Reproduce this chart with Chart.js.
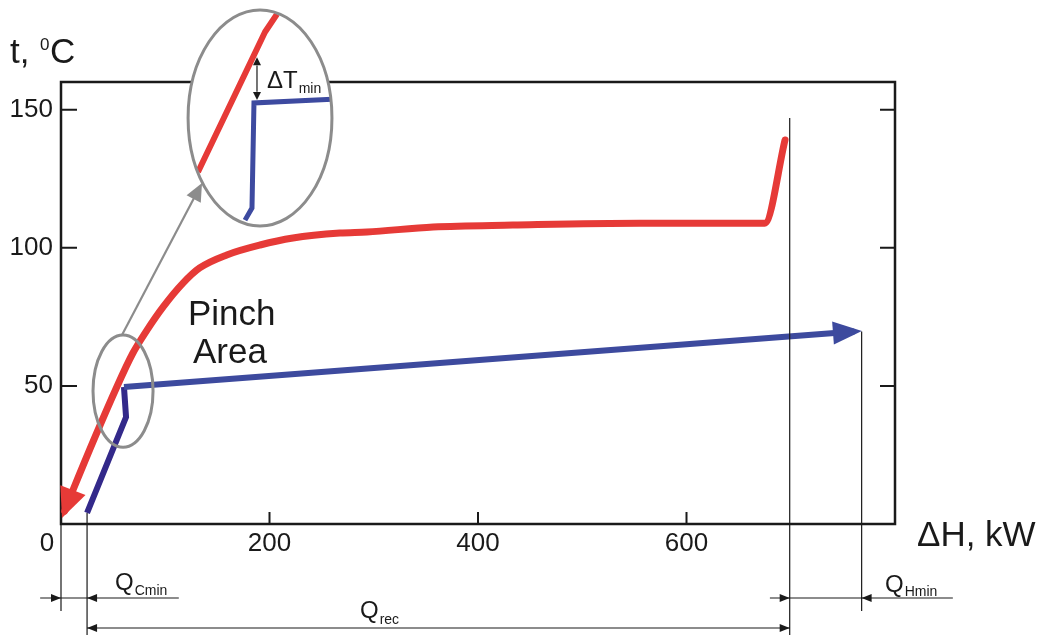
<!DOCTYPE html>
<html>
<head>
<meta charset="utf-8">
<script src="https://cdn.jsdelivr.net/npm/chart.js@4/dist/chart.umd.min.js"></script>
<style>
html, body { margin: 0; padding: 0; background: #fff; }
</style>
</head>
<body>
<canvas id="chart" width="1040" height="635"></canvas>
<script>
// Hot composite curve: enthalpy (kW) and temperature (°C)
const hotH = [3.6, 11.5, 53.5, 69, 82.5, 98, 117, 133, 159, 191, 222.5, 267.5, 293.5, 357, 433.5, 555, 675, 694.5];
const hotT = [4.7, 12.3, 49.6, 61.9, 70.2, 78.6, 87.2, 92.7, 97.4, 101, 103.5, 105.3, 105.7, 107.5, 108.2, 108.9, 108.9, 139];
// Cold composite curve
const coldH = [25, 62.4, 60.4, 761];
const coldT = [4, 38.7, 49.6, 69.7];

const xTicks = [0, 200, 400, 600];
const yTicks = [50, 100, 150];

// Energy targets on the H axis: [from, to]
const qCmin = [0, 25];
const qRec = [25, 699];
const qHmin = [699, 768];

const FONT = "'Liberation Sans', Arial, sans-serif";
const INK = '#1a1a1a';
const RED = '#e63a37';
const GREY = '#8c8c8c';

function head(ctx, x0, y0, x1, y1, len, half, color) {
  const dx = x1 - x0, dy = y1 - y0, d = Math.hypot(dx, dy);
  const ux = dx / d, uy = dy / d;
  const bx = x1 - ux * len, by = y1 - uy * len;
  ctx.fillStyle = color;
  ctx.beginPath();
  ctx.moveTo(x1, y1);
  ctx.lineTo(bx - uy * half, by + ux * half);
  ctx.lineTo(bx + uy * half, by - ux * half);
  ctx.closePath();
  ctx.fill();
}

function subText(ctx, main, sub, x, y, size, subSize, drop) {
  ctx.font = size + 'px ' + FONT;
  ctx.fillText(main, x, y);
  const w = ctx.measureText(main).width;
  ctx.font = subSize + 'px ' + FONT;
  ctx.fillText(sub, x + w + 1, y + drop);
}

const sketch = {
  id: 'sketch',
  beforeDatasetsDraw(chart) {
    const { ctx, chartArea: a, scales: { x, y } } = chart;
    ctx.save();
    // frame with inward ticks
    ctx.strokeStyle = INK;
    ctx.lineWidth = 2.5;
    ctx.strokeRect(a.left, a.top, a.right - a.left, a.bottom - a.top);
    ctx.lineWidth = 2;
    ctx.beginPath();
    yTicks.forEach(v => {
      const py = y.getPixelForValue(v);
      ctx.moveTo(a.left, py); ctx.lineTo(a.left + 16, py);
      ctx.moveTo(a.right - 15, py); ctx.lineTo(a.right, py);
    });
    xTicks.forEach(v => {
      if (v === 0) return;
      const px = x.getPixelForValue(v);
      ctx.moveTo(px, a.bottom); ctx.lineTo(px, a.bottom - 12);
    });
    ctx.stroke();

    // tick labels
    ctx.fillStyle = INK;
    ctx.font = '26px ' + FONT;
    ctx.textBaseline = 'middle';
    ctx.textAlign = 'right';
    yTicks.forEach(v => ctx.fillText(String(v), a.left - 8, y.getPixelForValue(v)));
    ctx.textAlign = 'center';
    xTicks.forEach(v => {
      const px = x.getPixelForValue(v) - (v === 0 ? 14 : 0);
      ctx.fillText(String(v), px, a.bottom + 20);
    });

    // axis titles
    ctx.textAlign = 'left';
    ctx.textBaseline = 'alphabetic';
    ctx.font = '35px ' + FONT;
    ctx.fillText('t, ', 10, 63);
    ctx.font = '17px ' + FONT;
    ctx.fillText('0', 40, 50);
    ctx.font = '35px ' + FONT;
    ctx.fillText('C', 50, 63);
    ctx.fillText('\u0394H, kW', 917, 546);
    ctx.restore();
  },
  afterDatasetsDraw(chart) {
    const { ctx, chartArea: a, scales: { x, y } } = chart;
    const X = v => x.getPixelForValue(v);
    const Y = v => y.getPixelForValue(v);
    ctx.save();

    // arrowheads on the composite curves
    const hot = chart.getDatasetMeta(0).data;
    const cold = chart.getDatasetMeta(1).data;
    const ext = (p, q, k) => {
      const d = Math.hypot(p.x - q.x, p.y - q.y);
      return [p.x + (p.x - q.x) / d * k, p.y + (p.y - q.y) / d * k];
    };
    let t = ext(hot[0], hot[1], 7.6);
    head(ctx, hot[1].x, hot[1].y, t[0], t[1], 30, 13.5, RED);
    const n = cold.length;
    t = ext(cold[n - 1], cold[n - 2], 7.6);
    head(ctx, cold[n - 2].x, cold[n - 2].y, t[0], t[1], 29, 11.5, '#3d4a9e');

    // vertical guide lines down to the target dimensions
    const r1 = a.bottom + 74, r2 = a.bottom + 104;
    ctx.strokeStyle = INK;
    ctx.lineWidth = 1.2;
    ctx.beginPath();
    ctx.moveTo(X(qCmin[0]), a.bottom); ctx.lineTo(X(qCmin[0]), a.bottom + 87);
    ctx.moveTo(X(qCmin[1]), Y(coldT[0])); ctx.lineTo(X(qCmin[1]), 635);
    ctx.moveTo(X(qRec[1]), Y(147)); ctx.lineTo(X(qRec[1]), 635);
    ctx.moveTo(X(qHmin[1]), Y(coldT[n - 1])); ctx.lineTo(X(qHmin[1]), a.bottom + 87);
    // dimension lines
    ctx.moveTo(X(-20), r1); ctx.lineTo(X(113), r1);
    ctx.moveTo(X(680), r1); ctx.lineTo(X(855.5), r1);
    ctx.moveTo(X(qRec[0]), r2); ctx.lineTo(X(qRec[1]), r2);
    ctx.stroke();
    head(ctx, X(-20), r1, X(qCmin[0]), r1, 10, 4, INK);
    head(ctx, X(113), r1, X(qCmin[1]), r1, 10, 4, INK);
    head(ctx, X(680), r1, X(qHmin[0]), r1, 10, 4, INK);
    head(ctx, X(855.5), r1, X(qHmin[1]), r1, 10, 4, INK);
    head(ctx, X(qRec[1]), r2, X(qRec[0]), r2, 10, 4, INK);
    head(ctx, X(qRec[0]), r2, X(qRec[1]), r2, 10, 4, INK);

    ctx.fillStyle = INK;
    ctx.textAlign = 'left';
    ctx.textBaseline = 'alphabetic';
    subText(ctx, 'Q', 'Cmin', X(51.8), a.bottom + 66, 24, 14, 5);
    subText(ctx, 'Q', 'rec', X(286.8), a.bottom + 94, 24, 14, 6);
    subText(ctx, 'Q', 'Hmin', X(790.4), a.bottom + 68, 24, 14, 4);

    // pinch area marker and pointer
    ctx.strokeStyle = GREY;
    ctx.lineWidth = 3;
    ctx.beginPath();
    ctx.ellipse(X(59.5), Y(48.1), X(28.8) - X(0), Y(0) - Y(20.3), 0, 0, Math.PI * 2);
    ctx.stroke();
    ctx.lineWidth = 2.2;
    ctx.beginPath();
    ctx.moveTo(X(58.5), Y(68.4));
    ctx.lineTo(X(128), Y(118.3));
    ctx.stroke();
    head(ctx, X(58.5), Y(68.4), X(135.3), Y(123.4), 18, 8, GREY);

    // magnified view of the pinch
    const cx = X(190.9), cy = Y(147);
    const rx = X(69) - X(0), ry = Y(0) - Y(39.1);
    ctx.beginPath();
    ctx.ellipse(cx, cy, rx, ry, 0, 0, Math.PI * 2);
    ctx.fillStyle = '#fff';
    ctx.fill();
    ctx.save();
    ctx.clip();
    ctx.lineJoin = 'round';
    ctx.strokeStyle = RED;
    ctx.lineWidth = 6;
    ctx.beginPath();
    ctx.moveTo(X(131.4), Y(127.4));
    ctx.lineTo(X(195.7), Y(178.1));
    ctx.lineTo(X(207.2), Y(184.6));
    ctx.stroke();
    ctx.strokeStyle = '#3d4aa0';
    ctx.lineWidth = 5;
    ctx.lineJoin = 'miter';
    ctx.beginPath();
    ctx.moveTo(X(176.5), Y(110));
    ctx.lineTo(X(183.2), Y(114.4));
    ctx.lineTo(X(185.1), Y(152.4));
    ctx.lineTo(X(262), Y(153.8));
    ctx.stroke();
    ctx.restore();
    ctx.strokeStyle = GREY;
    ctx.lineWidth = 3;
    ctx.beginPath();
    ctx.ellipse(cx, cy, rx, ry, 0, 0, Math.PI * 2);
    ctx.stroke();

    // minimum temperature difference
    const ax = X(188);
    ctx.strokeStyle = INK;
    ctx.lineWidth = 1.2;
    ctx.beginPath();
    ctx.moveTo(ax, Y(166)); ctx.lineTo(ax, Y(156.5));
    ctx.stroke();
    head(ctx, ax, Y(160), ax, Y(169), 8, 4, INK);
    head(ctx, ax, Y(162), ax, Y(153.5), 8, 4, INK);
    ctx.fillStyle = INK;
    subText(ctx, '\u0394T', 'min', X(197.6), Y(157.8), 24, 14, 5);

    ctx.font = '35px ' + FONT;
    ctx.fillText('Pinch', X(121.8), Y(72));
    ctx.fillText('Area', X(126.6), Y(58.3));
    ctx.restore();
  }
};

new Chart(document.getElementById('chart'), {
  type: 'line',
  data: {
    datasets: [
      {
        data: hotH.map((h, i) => ({ x: h, y: hotT[i] })),
        borderColor: RED,
        borderWidth: 7,
        cubicInterpolationMode: 'monotone',
        borderJoinStyle: 'round',
        borderCapStyle: 'round',
        pointRadius: 0,
        clip: false
      },
      {
        data: coldH.map((h, i) => ({ x: h, y: coldT[i] })),
        borderColor: '#3d4a9e',
        borderWidth: 6,
        tension: 0,
        borderJoinStyle: 'miter',
        pointRadius: 0,
        clip: false,
        segment: { borderColor: c => (c.p1DataIndex <= 2 ? '#33298a' : '#3d4a9e') }
      }
    ]
  },
  options: {
    responsive: false,
    animation: false,
    layout: { padding: { left: 61, top: 82, right: 145, bottom: 111 } },
    plugins: { legend: { display: false }, tooltip: { enabled: false } },
    scales: {
      x: { type: 'linear', display: false, min: 0, max: 800 },
      y: { type: 'linear', display: false, min: 0, max: 160 }
    }
  },
  plugins: [sketch]
});
</script>
</body>
</html>
